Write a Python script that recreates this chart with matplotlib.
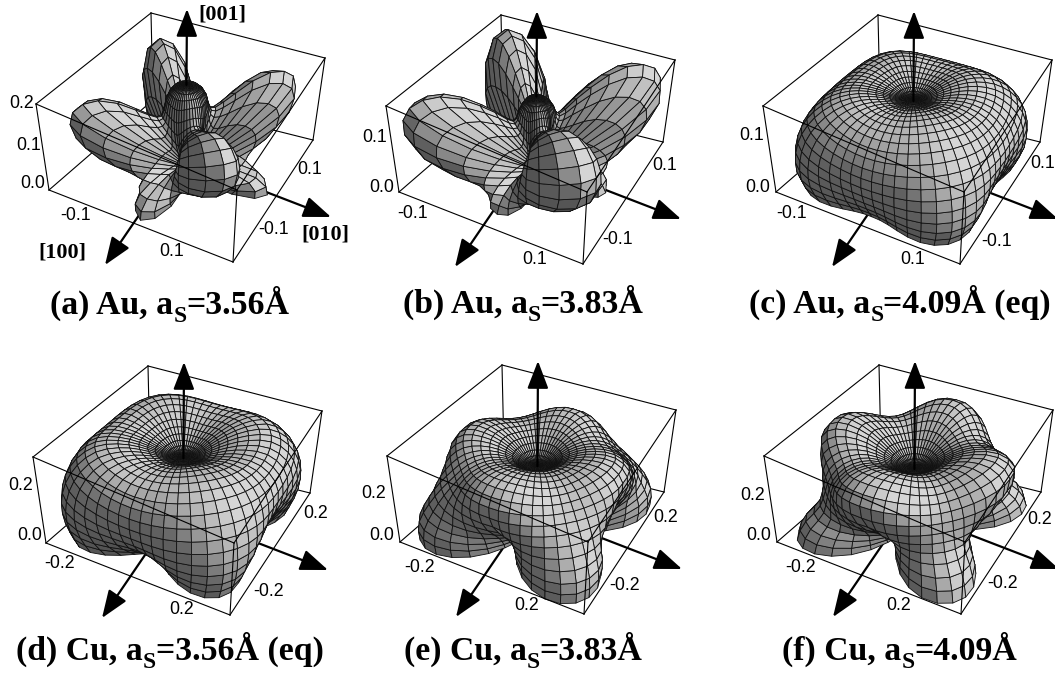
import numpy as np
import matplotlib
matplotlib.use('Agg')
import matplotlib.pyplot as plt
from matplotlib.collections import PolyCollection
from matplotlib.patches import FancyArrowPatch

# polar angle nodes of the radius tables, degrees
theta_nodes = [0, 10, 20, 30, 40, 50, 60, 70, 80, 90]

# radius, in units of half a box edge
# base = same at every azimuth, diag = extra towards <110>, axis = extra towards <100>
base_a = [0.98, 0.95, 0.55, 0.15, 0.03, 0.0, 0.0, 0.0, 0.0, 0.0]
diag_a = [0.0, 0.0, 0.12, 0.70, 1.25, 1.42, 1.30, 0.90, 0.40, 0.05]
axis_a = [0.0, 0.0, 0.0, 0.0, 0.02, 0.05, 0.18, 0.50, 0.88, 0.92]

base_b = [0.88, 0.82, 0.42, 0.10, 0.02, 0.0, 0.0, 0.0, 0.0, 0.0]
diag_b = [0.0, 0.0, 0.20, 0.85, 1.35, 1.55, 1.50, 1.20, 0.70, 0.25]
axis_b = [0.0, 0.0, 0.0, 0.02, 0.05, 0.10, 0.25, 0.50, 0.72, 0.80]

base_c = [0.82, 0.86, 0.97, 1.08, 1.15, 1.16, 1.12, 1.02, 0.92, 0.82]
diag_c = [0.0, 0.0, 0.02, 0.04, 0.06, 0.10, 0.16, 0.24, 0.30, 0.30]
axis_c = [0.0] * 10

base_d = [0.75, 0.78, 0.92, 1.08, 1.22, 1.24, 1.14, 0.98, 0.78, 0.60]
diag_d = [0.0, 0.0, 0.02, 0.05, 0.07, 0.10, 0.20, 0.32, 0.45, 0.55]
axis_d = [0.0] * 10

base_e = [0.65, 0.66, 0.85, 0.98, 1.03, 0.95, 0.80, 0.62, 0.47, 0.42]
diag_e = [0.0, 0.0, 0.0, 0.0, 0.02, 0.12, 0.32, 0.56, 0.78, 0.82]
axis_e = [0.0, 0.0, 0.0, 0.05, 0.15, 0.22, 0.15, 0.0, 0.0, 0.0]

base_f = [0.62, 0.63, 0.80, 0.98, 1.05, 0.98, 0.75, 0.52, 0.38, 0.30]
diag_f = [0.0, 0.0, 0.0, 0.0, 0.02, 0.10, 0.28, 0.50, 0.78, 0.95]
axis_f = [0.0, 0.0, 0.0, 0.08, 0.22, 0.32, 0.22, 0.0, 0.0, 0.0]

caption_left = ['(a) Au, a', '(b) Au, a', '(c) Au, a', '(d) Cu, a', '(e) Cu, a', '(f) Cu, a']
caption_right = ['=3.56Å', '=3.83Å', '=4.09Å (eq)', '=3.56Å (eq)', '=3.83Å', '=4.09Å']
caption_x = [170, 523, 900, 170, 523, 900]
caption_base = [314, 313, 313, 660, 660, 660]

tick_labels_a = ['0.2', '0.1', '0.0', '-0.1', '0.1', '-0.1', '0.1']
tick_labels_b = ['0.1', '0.0', '-0.1', '0.1', '-0.1', '0.1']
tick_labels_d = ['0.2', '0.0', '-0.2', '0.2', '-0.2', '0.2']
tick_xy_a = [(22, 103), (29, 146), (33, 184), (76, 216), (172, 252), (274, 229), (310, 169)]
tick_xy_b = [(375, 137), (382, 187), (413, 213), (535, 259), (618, 240), (665, 165)]
tick_xy_c = [(752, 135), (758, 187), (792, 213), (913, 259), (997, 242), (1043, 163)]
tick_xy_d = [(21, 486), (30, 536), (60, 563), (182, 609), (269, 591), (316, 514)]
tick_xy_e = [(374, 493), (382, 536), (420, 567), (527, 606), (625, 586), (666, 518)]
tick_xy_f = [(753, 495), (759, 536), (801, 568), (899, 605), (1003, 583), (1040, 520)]

# box corners of panel a in pixels: x, y, z of the cube -> image
cube = [(1, -1, 1), (-1, -1, 1), (-1, 1, 1), (1, 1, 1),
        (1, -1, 0), (-1, -1, 0), (-1, 1, 0), (1, 1, 0)]
corners = [(36, 104), (151, 13), (325, 58), (237, 190),
           (49, 190), (153, 100), (313, 140), (233, 262)]

panels = [
    dict(base=base_a, diag=diag_a, axis=axis_a, p=0.8, q=1.5, n=(22, 48), off=(0, 0), labels=tick_labels_a, xy=tick_xy_a),
    dict(base=base_b, diag=diag_b, axis=axis_b, p=0.7, q=1.5, n=(22, 48), off=(350, 2), labels=tick_labels_b, xy=tick_xy_b),
    dict(base=base_c, diag=diag_c, axis=axis_c, p=1.2, q=1.0, n=(24, 56), off=(727, 2), labels=tick_labels_b, xy=tick_xy_c),
    dict(base=base_d, diag=diag_d, axis=axis_d, p=1.0, q=1.0, n=(24, 56), off=(-3, 353), labels=tick_labels_d, xy=tick_xy_d),
    dict(base=base_e, diag=diag_e, axis=axis_e, p=0.6, q=1.0, n=(24, 56), off=(351, 352), labels=tick_labels_d, xy=tick_xy_e),
    dict(base=base_f, diag=diag_f, axis=axis_f, p=0.6, q=1.0, n=(24, 56), off=(728, 352), labels=tick_labels_d, xy=tick_xy_f),
]


def fit_camera(points, pixels):
    rows = []
    for (x, y, z), (u, v) in zip(points, pixels):
        rows.append([x, y, z, 1, 0, 0, 0, 0, -u*x, -u*y, -u*z, -u])
        rows.append([0, 0, 0, 0, x, y, z, 1, -v*x, -v*y, -v*z, -v])
    m = np.linalg.svd(np.array(rows, dtype=float))[2][-1].reshape(3, 4)
    if m[2, 3] < 0:
        m = -m
    return m


def project(m, xyz):
    h = xyz @ m[:, :3].T + m[:, 3]
    return h[..., :2] / h[..., 2:], h[..., 2]


def profile(values, t):
    fine = np.arange(-10, 101)
    r = np.interp(fine, theta_nodes, values)
    r = np.convolve(r, np.ones(9) / 9, mode='same')
    return np.interp(t, fine, r)


camera = fit_camera(cube, corners)
light1 = np.array([-0.25, 0.65, 0.72])
light2 = np.array([0.45, 0.45, 0.77])
view = np.array([0.5, 0.5, 0.7])

fig = plt.figure(figsize=(10.55, 6.73), dpi=100)
ax = fig.add_axes([0, 0, 1, 1])
ax.set_xlim(0, 1055)
ax.set_ylim(673, 0)
ax.axis('off')

back_edges = [(1, 5), (4, 5), (5, 6)]
front_edges = [(0, 1), (1, 2), (2, 3), (3, 0), (0, 4), (2, 6), (3, 7), (4, 7), (6, 7)]
arrow_tip_x = (105, 265)
arrow_tip_y = (331, 217)
arrow_tip_z = (187, 9)
arrow_origin = (178, 158)

for pan in panels:
    dx, dy = pan['off']
    box = np.array(corners, dtype=float) + (dx, dy)
    for a, b in back_edges:
        ax.plot(box[[a, b], 0], box[[a, b], 1], color='k', lw=0.8, zorder=1)

    head = '-|>,head_length=17,head_width=6.5'
    for tip in (arrow_tip_x, arrow_tip_y):
        ax.add_patch(FancyArrowPatch((arrow_origin[0] + dx, arrow_origin[1] + dy), (tip[0] + dx, tip[1] + dy),
                                     arrowstyle=head, mutation_scale=1, lw=1.6, color='k',
                                     shrinkA=0, shrinkB=0, zorder=2))

    # surface mesh, rings packed towards the pole
    t = 90 * np.linspace(0, 1, pan['n'][0] + 1) ** 1.5
    phi = np.radians(np.linspace(0, 360, pan['n'][1] + 1))
    T, F = np.meshgrid(t, phi, indexing='ij')
    wd = np.sin(2 * F) ** 2
    wa = np.cos(2 * F) ** 2
    R = (profile(pan['base'], T) + profile(pan['diag'], T) * wd ** pan['p']
         + profile(pan['axis'], T) * wa ** pan['q'])
    th = np.radians(T)
    P = np.stack([R * np.sin(th) * np.cos(F), R * np.sin(th) * np.sin(F), R * np.cos(th)], axis=-1)
    uv, w = project(camera, P)
    uv = uv + (dx, dy)

    polys, grays, depth = [], [], []
    for i in range(P.shape[0] - 1):
        for j in range(P.shape[1] - 1):
            idx = [(i, j), (i + 1, j), (i + 1, j + 1), (i, j + 1)]
            p3 = np.array([P[k] for k in idx])
            n = np.cross(p3[2] - p3[0], p3[3] - p3[1])
            ln = np.linalg.norm(n)
            if ln < 1e-9:
                continue
            n = n / ln
            if n @ p3.mean(axis=0) < 0:
                n = -n
            g = 0.30 + 0.50 * max(0, n @ light1) + 0.12 * max(0, n @ light2)
            if n @ view < 0:
                g = 0.6 * (0.30 + 0.50 * max(0, -n @ light1))
            polys.append([uv[k] for k in idx])
            grays.append(min(g, 0.84))
            depth.append(np.mean([w[k] for k in idx]))
    order = np.argsort(depth)[::-1]
    pc = PolyCollection([polys[k] for k in order],
                        facecolors=[(grays[k],) * 3 for k in order],
                        edgecolors='#111111', linewidths=0.6, zorder=3)
    ax.add_collection(pc)

    for a, b in front_edges:
        ax.plot(box[[a, b], 0], box[[a, b], 1], color='k', lw=0.8, zorder=4)

    # z arrow starts where it leaves the surface at the pole
    pole_uv, _ = project(camera, np.array([0, 0, R[0, 0]]))
    ax.add_patch(FancyArrowPatch((pole_uv[0] + dx, pole_uv[1] + dy), (arrow_tip_z[0] + dx, arrow_tip_z[1] + dy),
                                 arrowstyle=head, mutation_scale=1, lw=1.6, color='k',
                                 shrinkA=0, shrinkB=0, zorder=5))

    for s, (x, y) in zip(pan['labels'], pan['xy']):
        ax.text(x, y, s, family='Liberation Sans', fontsize=12.8, ha='center', va='center', zorder=6)

# captions in three pieces so the subscript can drop as low as it does in the picture
renderer = fig.canvas.get_renderer()
serif = dict(family='Liberation Serif', fontweight='bold', va='baseline', zorder=6)
for left, right, x, y in zip(caption_left, caption_right, caption_x, caption_base):
    t1 = ax.text(0, y, left, fontsize=24.3, **serif)
    t2 = ax.text(0, y + 8, 'S', fontsize=17, **serif)
    t3 = ax.text(0, y, right, fontsize=24.3, **serif)
    w1, w2, w3 = [t.get_window_extent(renderer).width for t in (t1, t2, t3)]
    x0 = x - (w1 + w2 + w3) / 2
    t1.set_x(x0)
    t2.set_x(x0 + w1)
    t3.set_x(x0 + w1 + w2)

# axis names only on the first panel
ax.text(222, 14, '[001]', family='Liberation Serif', fontweight='bold', fontsize=15.8, ha='center', va='center', zorder=6)
ax.text(62, 252, '[100]', family='Liberation Serif', fontweight='bold', fontsize=15.8, ha='center', va='center', zorder=6)
ax.text(325, 235, '[010]', family='Liberation Serif', fontweight='bold', fontsize=15.8, ha='center', va='center', zorder=6)

fig.savefig('out.png', dpi=100)
